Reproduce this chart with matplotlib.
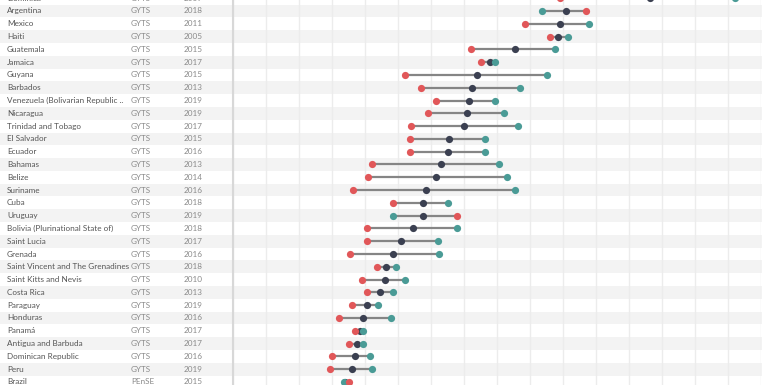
import matplotlib
matplotlib.use("Agg")
import matplotlib.pyplot as plt

# rows top -> bottom (first and last are cut off by the frame)
countries = ["Dominica", "Argentina", "Mexico", "Haiti", "Guatemala", "Jamaica", "Guyana", "Barbados",
             "Venezuela (Bolivarian Republic ..", "Nicaragua", "Trinidad and Tobago", "El Salvador", "Ecuador",
             "Bahamas", "Belize", "Suriname", "Cuba", "Uruguay", "Bolivia (Plurinational State of)",
             "Saint Lucia", "Grenada", "Saint Vincent and The Grenadines", "Saint Kitts and Nevis",
             "Costa Rica", "Paraguay", "Honduras", "Panamá", "Antigua and Barbuda", "Dominican Republic",
             "Peru", "Brazil"]
surveys = ["GYTS"] * 30 + ["PEnSE"]
years = [2009, 2018, 2011, 2005, 2015, 2017, 2015, 2013, 2019, 2019, 2017, 2015, 2016, 2013, 2014, 2016,
         2018, 2019, 2018, 2017, 2016, 2018, 2010, 2013, 2019, 2016, 2017, 2017, 2016, 2019, 2015]

# values (grid step = 2)
red_vals = [19.8, 21.4, 17.7, 19.2, 14.4, 15.0, 10.4, 11.4, 12.3, 11.8, 10.8, 10.7, 10.7, 8.4, 8.2, 7.3,
            9.7, 13.6, 8.1, 8.1, 7.1, 8.7, 7.8, 8.1, 7.2, 6.4, 7.4, 7.0, 6.0, 5.9, 7.0]
dark_vals = [25.3, 20.2, 19.8, 19.7, 17.1, 15.6, 14.8, 14.5, 14.3, 14.2, 14.0, 13.1, 13.0, 12.6, 12.3, 11.7,
             11.5, 11.5, 10.9, 10.2, 9.7, 9.3, 9.2, 8.9, 8.1, 7.9, 7.7, 7.5, 7.4, 7.2, 6.8]
teal_vals = [30.4, 18.7, 21.6, 20.3, 19.5, 15.9, 19.0, 17.4, 15.9, 16.4, 17.3, 15.3, 15.3, 16.1, 16.6, 17.1,
             13.0, 9.7, 13.6, 12.4, 12.5, 9.9, 10.4, 9.7, 8.8, 9.6, 7.9, 7.9, 8.3, 8.4, 6.7]

RED, TEAL, DARK = "#E15759", "#4A9B96", "#3B4051"

W, H = 770, 385
fig = plt.figure(figsize=(W / 100, H / 100), dpi=100)

# background: row stripes + text columns (x in pixels, y in row index)
y_top, y_bot = 0.14, 30.24
bg = fig.add_axes([0, 0, 1, 1])
bg.set_xlim(0, W)
bg.set_ylim(y_bot, y_top)
bg.axis("off")
for i in range(len(countries)):
    if i % 2 == 1:
        bg.fill_between([0, 762], i - 0.5, i + 0.5, color="#f3f3f3", lw=0, zorder=0)
for i, (c, s, yr) in enumerate(zip(countries, surveys, years)):
    bg.text(7, i, c, fontsize=5.9, family="Lato", color="#555555", va="center", ha="left")
    bg.text(131, i, s, fontsize=5.9, family="Lato", color="#8a8a8a", va="center", ha="left")
    bg.text(184, i, str(yr), fontsize=5.9, family="Lato", color="#8a8a8a", va="center", ha="left")

ax = fig.add_axes([233 / W, 0, (761 - 233) / W, 1])
ax.patch.set_alpha(0)
ax.set_xlim(0, 32)
ax.set_ylim(y_bot, y_top)
ax.set_xticks(range(0, 33, 2))
ax.set_yticks([])
ax.tick_params(length=0, labelbottom=False)
ax.grid(axis="x", color="#ececec", lw=1)
ax.set_axisbelow(True)
for side in ["top", "right", "bottom"]:
    ax.spines[side].set_visible(False)
ax.spines["left"].set_color("#d8d8d8")
ax.spines["left"].set_linewidth(1.5)

rows = list(range(len(countries)))
for i in rows:
    lo = min(red_vals[i], dark_vals[i], teal_vals[i])
    hi = max(red_vals[i], dark_vals[i], teal_vals[i])
    ax.plot([lo, hi], [i, i], color="#858585", lw=1.6, zorder=2, solid_capstyle="butt")
ax.plot(dark_vals, rows, "o", color=DARK, ms=5.2, mew=0, zorder=3)
ax.plot(teal_vals, rows, "o", color=TEAL, ms=5.2, mew=0, zorder=4)
ax.plot(red_vals, rows, "o", color=RED, ms=5.2, mew=0, zorder=5)

fig.savefig("out.png", dpi=100)
